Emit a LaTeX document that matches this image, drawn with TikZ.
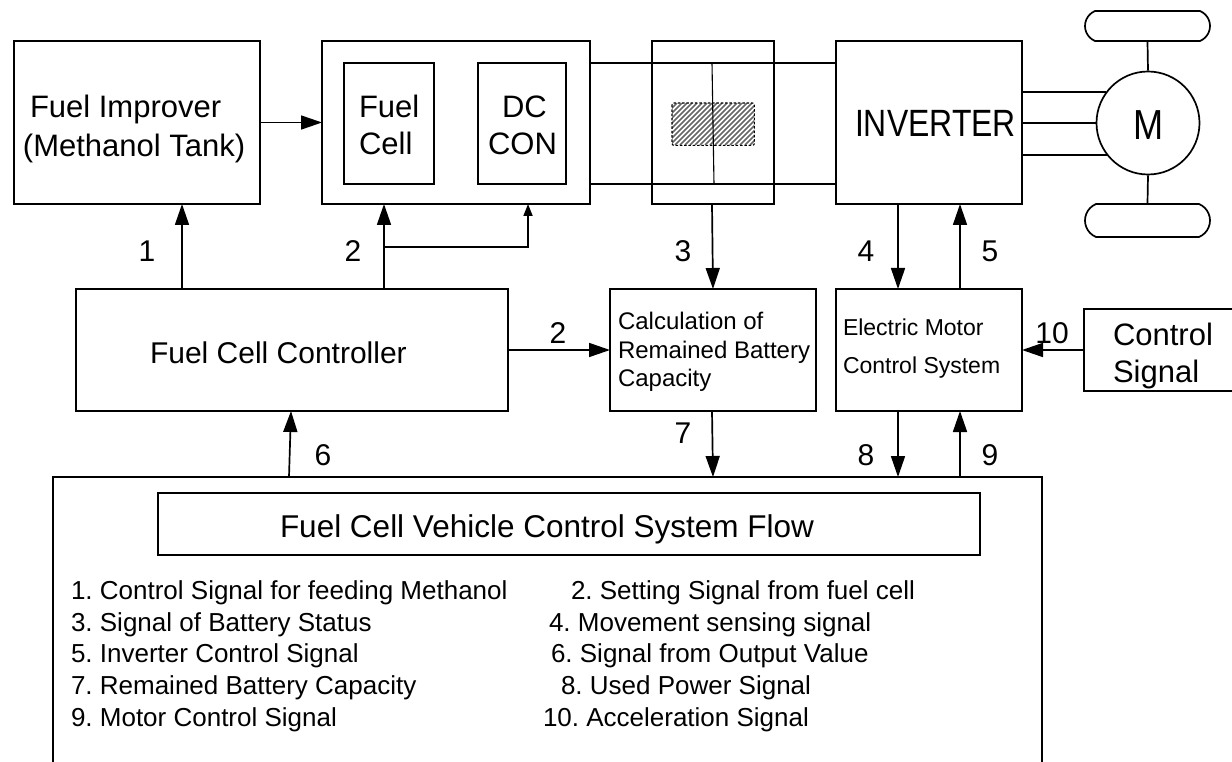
\documentclass[tikz,border=0pt]{standalone}
\usepackage{fontspec}
\setmainfont{Liberation Sans}
\usetikzlibrary{arrows.meta,shapes.misc}
\newcommand{\fsz}[1]{\fontsize{#1}{#1}\selectfont}
\frenchspacing
\begin{document}
\begin{tikzpicture}[x=1pt,y=-1pt,
  box/.style={draw,line width=1.7pt,inner sep=0pt,outer sep=0pt,anchor=north west},
  txt/.style={inner sep=0pt,outer sep=0pt,anchor=base west},
  lbl/.style={inner sep=0pt,outer sep=0pt,font=\fsz{30}},
  arr/.style={line width=1.7pt,-{Triangle[length=21pt,width=14pt]}},
  sarr/.style={line width=1.7pt,-{Triangle[length=12pt,width=9pt]}},
  ln/.style={line width=1.7pt}]
\useasboundingbox (0,0) rectangle (1232,762);
% boxes
\node[box,minimum width=246pt,minimum height=163pt] (fi) at (14,41) {};
\node[box,minimum width=268pt,minimum height=163pt] (fcb) at (322,41) {};
\node[box,minimum width=90pt,minimum height=121pt] (fc) at (344,63) {};
\node[box,minimum width=88pt,minimum height=121pt] (dc) at (478,63) {};
\node[box,minimum width=122pt,minimum height=163pt] (bat) at (652,41) {};
\node[box,minimum width=186pt,minimum height=163pt] (inv) at (836,41) {};
\node[box,minimum width=432pt,minimum height=122pt] (ctl) at (76,289) {};
\node[box,minimum width=206pt,minimum height=122pt] (calc) at (610,289) {};
\node[box,minimum width=186pt,minimum height=122pt] (emcs) at (836,289) {};
\node[box,minimum width=160pt,minimum height=82pt] (cs) at (1084,309) {};
\node[box,minimum width=989pt,minimum height=300pt] (big) at (53,477) {};
\node[box,minimum width=822pt,minimum height=62pt] (ttl) at (158,493) {};
% battery symbol (hatched, dashed border)
\node[anchor=north west,inner sep=0pt,minimum width=82pt,minimum height=42pt] (hatch) at (672,103) {};
\begin{scope}
  \clip[rounded corners=2pt] (hatch.north west) rectangle (hatch.south east);
  \foreach \i in {0,...,25} {
    \draw[line width=1.5pt,black!60] (630+\i*5,145) -- ++(42,-42);
  }
\end{scope}
\draw[line width=1.1pt,dash pattern=on 2.5pt off 1.8pt,rounded corners=2pt]
  (hatch.north west) rectangle (hatch.south east);
\draw[ln] (fcb.east |- fc.north) -- (inv.west |- fc.north);
\draw[ln] (fcb.east |- fc.south) -- (inv.west |- fc.south);
\draw[line width=1.1pt] (712,63) -- (714,184);
% motor and wheels
\node[draw,circle,line width=1.7pt,minimum size=103pt,inner sep=0pt] (mot) at (1148,123) {};
\node[draw,rounded rectangle,rounded rectangle arc length=135,line width=1.7pt,
  minimum width=125pt,minimum height=30pt,inner sep=0pt] (wh1) at (1147.5,26) {};
\node[draw,rounded rectangle,rounded rectangle arc length=135,line width=1.7pt,
  minimum width=125pt,minimum height=33pt,inner sep=0pt] (wh2) at (1147.5,220.5) {};
\draw[ln] (wh1.south) -- (mot.north);
\draw[ln] (mot.south) -- (wh2.north);
\draw[ln] (inv.east |- mot.144.4) -- (mot.144.4);
\draw[ln] (inv.east |- mot.west) -- (mot.west);
\draw[ln] (inv.east |- mot.218.4) -- (mot.218.4);
% texts
\node[txt,font=\fsz{31}] (t1a) at (30,117.5) {Fuel Improver};
\node[txt,font=\fsz{31}] (t1b) at (23,157) {(Methanol Tank)};
\node[txt,font=\fsz{31}] (t2a) at (359,117.5) {Fuel};
\node[txt,font=\fsz{31}] (t2b) at (359,154.5) {Cell};
\node[txt,font=\fsz{31}] (t3a) at (502,117.5) {DC};
\node[txt,font=\fsz{31}] (t3b) at (488,155) {CON};
\node[inner sep=0pt] (t4) at (935.5,123.5) {\fsz{38}\scalebox{0.84}[1]{INVERTER}};
\node[inner sep=0pt] (t5) at (1149,125) {\fsz{42}\scalebox{0.86}[1]{M}};
\node[txt,font=\fsz{30}] (t6) at (150,363) {Fuel Cell Controller};
\node[txt,font=\fsz{24}] (t7a) at (618,329.5) {Calculation of};
\node[txt,font=\fsz{24}] (t7b) at (618,358) {Remained Battery};
\node[txt,font=\fsz{24}] (t7c) at (618,386.5) {Capacity};
\node[txt,font=\fsz{23}] (t8a) at (843,335) {Electric Motor};
\node[txt,font=\fsz{23}] (t8b) at (843,373) {Control System};
\node[txt,font=\fsz{31}] (t9a) at (1113,345) {Control};
\node[txt,font=\fsz{31}] (t9b) at (1113,382) {Signal};
\node[txt,font=\fsz{31.5}] (t10) at (280,537) {Fuel Cell Vehicle Control System Flow};
\begin{scope}[every node/.style={txt,font=\fsz{26}}]
\node (l1) at (71,599.5) {1. Control Signal for feeding Methanol};
\node (l3) at (71,631) {3. Signal of Battery Status};
\node (l5) at (71,662.7) {5. Inverter Control Signal};
\node (l7) at (71,694.4) {7. Remained Battery Capacity};
\node (l9) at (71,726) {9. Motor Control Signal};
\node (l2) at (571,599.5) {2. Setting Signal from fuel cell};
\node (l4) at (549,631) {4. Movement sensing signal};
\node (l6) at (551,662.7) {6. Signal from Output Value};
\node (l8) at (561,694.4) {8. Used Power Signal};
\node (l10) at (543,726) {10. Acceleration Signal};
\end{scope}
% connectors
\draw[arr] (fi.east) -- (fcb.west);
\draw[arr] (ctl.north -| 182,0) -- (fi.south -| 182,0);
\draw[arr] (ctl.north -| 384,0) -- (fcb.south -| 384,0);
\draw[sarr] (384,247) -| (fcb.south -| 528,0);
\draw[arr] (bat.south -| 712,0) -- (calc.north -| 713,0);
\draw[arr] (inv.south -| 898,0) -- (emcs.north -| 898,0);
\draw[arr] (emcs.north -| 960,0) -- (inv.south -| 960,0);
\draw[arr] (ctl.east) -- (calc.west);
\draw[arr] (cs.west) -- (emcs.east);
\draw[arr] (big.north -| 289,0) -- (ctl.south -| 291,0);
\draw[arr] (calc.south -| 712,0) -- (big.north -| 713,0);
\draw[arr] (emcs.south -| 898,0) -- (big.north -| 898,0);
\draw[arr] (big.north -| 960,0) -- (emcs.south -| 960,0);
% labels
\node[lbl] (n1) at (147,251) {1};
\node[lbl] (n2) at (353,251) {2};
\node[lbl] (n3) at (683,251) {3};
\node[lbl] (n4) at (866,251) {4};
\node[lbl] (n5) at (990,251) {5};
\node[lbl] (n2b) at (558,333) {2};
\node[lbl] (n10) at (1052,333) {10};
\node[lbl] (n6) at (323,455) {6};
\node[lbl] (n7) at (683,433) {7};
\node[lbl] (n8) at (866,455) {8};
\node[lbl] (n9) at (990,455) {9};
\end{tikzpicture}
\end{document}
